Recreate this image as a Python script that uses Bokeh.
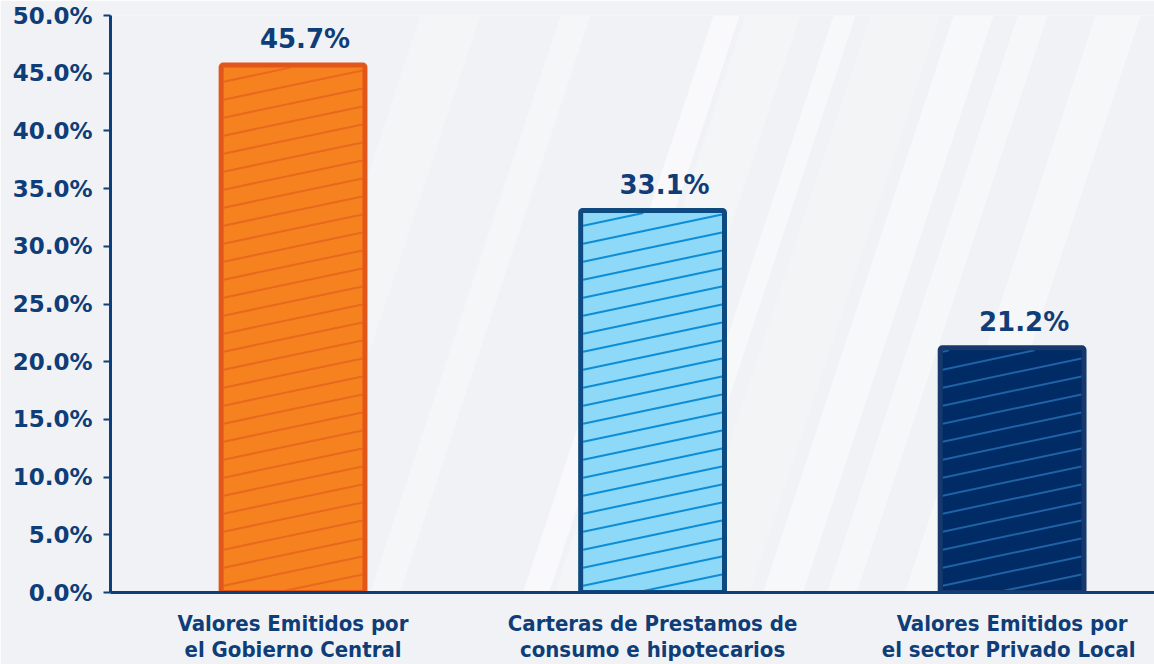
from bokeh.plotting import figure
from bokeh.models import (ColumnDataSource, Range1d, FixedTicker, NumeralTickFormatter,
                          LabelSet, PolyAnnotation)
from bokeh.core.properties import value
from bokeh.embed import file_html
from bokeh.resources import INLINE

# ---- data ----
categories = ["Valores Emitidos por\nel Gobierno Central",
              "Carteras de Prestamos de\nconsumo e hipotecarios",
              "Valores Emitidos por\nel  sector Privado Local"]
values = [0.457, 0.331, 0.212]
value_labels = ["45.7%", "33.1%", "21.2%"]
y_ticks = [0.0, 0.05, 0.10, 0.15, 0.20, 0.25, 0.30, 0.35, 0.40, 0.45, 0.50]

fill_colors = ["#F5821F", "#8ED8F8", "#002B65"]
line_colors = ["#E2561A", "#0E4A80", "#17386C"]
hatch_colors = ["#E9681E", "#0C8DD6", "#1E63A6"]

TEXT = "#0F3D78"
AXIS = "#0E3F7A"
BG = "#F1F2F5"

# ---- layout ----
W, H = 1154, 664
B_LEFT, B_RIGHT, B_TOP, B_BOTTOM = 110, 0, 15, 72
X0, X1 = -0.5077, 2.396
Y0, Y1 = 0.0, 0.5
BAR_W = 0.40
frame_w = W - B_LEFT - B_RIGHT
frame_h = H - B_TOP - B_BOTTOM
px_x = frame_w / (X1 - X0)
px_y = frame_h / (Y1 - Y0)

xs = list(range(len(categories)))
src = ColumnDataSource(dict(x=xs, top=values, fill=fill_colors, line=line_colors,
                            hatch=hatch_colors, lab=value_labels))

p = figure(width=W, height=H, output_backend="svg", toolbar_location=None,
           x_range=Range1d(X0, X1), y_range=Range1d(Y0, Y1),
           min_border_left=B_LEFT, min_border_right=B_RIGHT,
           min_border_top=B_TOP, min_border_bottom=B_BOTTOM)
p.background_fill_color = BG
p.border_fill_color = BG
p.outline_line_color = None
p.grid.visible = False

# decorative light diagonal streaks (background only), given as
# (x at top of frame in page px, width px, alpha)
streaks = [(713, 26, 0.55), (745, 55, 0.25), (833, 22, 0.45), (870, 70, 0.18),
           (953, 40, 0.45), (1017, 30, 0.4), (1095, 45, 0.4), (420, 60, 0.25),
           (560, 30, 0.3)]
lean = 0.33 * frame_h
for xt, wd, a in streaks:
    fx = xt - B_LEFT
    p.add_layout(PolyAnnotation(xs=[fx - lean, fx - lean + wd, fx + wd, fx],
                                ys=[0, 0, frame_h, frame_h],
                                xs_units="screen", ys_units="screen",
                                fill_color="white", fill_alpha=a, line_color=None,
                                level="underlay"))

# bar fills
p.vbar(x="x", top="top", width=BAR_W, bottom=0, source=src,
       fill_color="fill", line_color=None)

# hatch lines (shallow diagonal), computed in screen proportion
slope = 0.21      # px rise per px run
gap = 18.0        # vertical px between lines
stroke = 5.0
seg_x0, seg_y0, seg_x1, seg_y1, seg_c = [], [], [], [], []
for i, v in enumerate(values):
    wpx = BAR_W * px_x - stroke
    hpx = v * px_y - stroke / 2
    xl_px = (xs[i] - BAR_W / 2) * px_x + stroke / 2
    c = -slope * wpx
    while c < hpx:
        xa = max(0.0, (0.0 - c) / slope)
        xb = min(wpx, (hpx - c) / slope)
        if xa < xb:
            seg_x0.append((xl_px + xa) / px_x)
            seg_x1.append((xl_px + xb) / px_x)
            seg_y0.append((c + slope * xa) / px_y)
            seg_y1.append((c + slope * xb) / px_y)
            seg_c.append(hatch_colors[i])
        c += gap
p.segment(x0=seg_x0, y0=seg_y0, x1=seg_x1, y1=seg_y1, line_color=seg_c, line_width=2)

# bar outlines
p.vbar(x="x", top="top", width=BAR_W, bottom=0, source=src,
       fill_color=None, line_color="line", line_width=stroke, border_radius=2)

# value labels
labels = LabelSet(x="x", y="top", text="lab", source=src, x_offset=12, y_offset=17,
                  text_align="center", text_baseline="alphabetic",
                  text_font=value("DejaVu Sans"), text_font_style="bold",
                  text_font_size="26px", text_color=TEXT)
p.add_layout(labels)

# axes
xa = p.xaxis[0]
xa.ticker = FixedTicker(ticks=xs)
xa.major_label_overrides = {x: c for x, c in zip(xs, categories)}
xa.major_tick_out = 0
xa.major_tick_in = 0
xa.minor_tick_line_color = None
xa.axis_line_color = AXIS
xa.axis_line_width = 3
xa.major_label_standoff = 18
xa.major_label_text_font = "DejaVu Sans Condensed"
xa.major_label_text_font_style = "bold"
xa.major_label_text_font_size = "22px"
xa.major_label_text_color = TEXT
xa.major_label_text_line_height = 1.05

ya = p.yaxis[0]
ya.ticker = FixedTicker(ticks=y_ticks)
ya.formatter = NumeralTickFormatter(format="0.0%")
ya.major_tick_out = 7
ya.major_tick_in = 0
ya.major_tick_line_color = AXIS
ya.major_tick_line_width = 2
ya.minor_tick_line_color = None
ya.axis_line_color = AXIS
ya.axis_line_width = 3
ya.major_label_standoff = 11
ya.major_label_text_font = "DejaVu Sans"
ya.major_label_text_font_style = "bold"
ya.major_label_text_font_size = "23px"
ya.major_label_text_color = TEXT

open("out.html", "w").write(file_html(p, INLINE))
